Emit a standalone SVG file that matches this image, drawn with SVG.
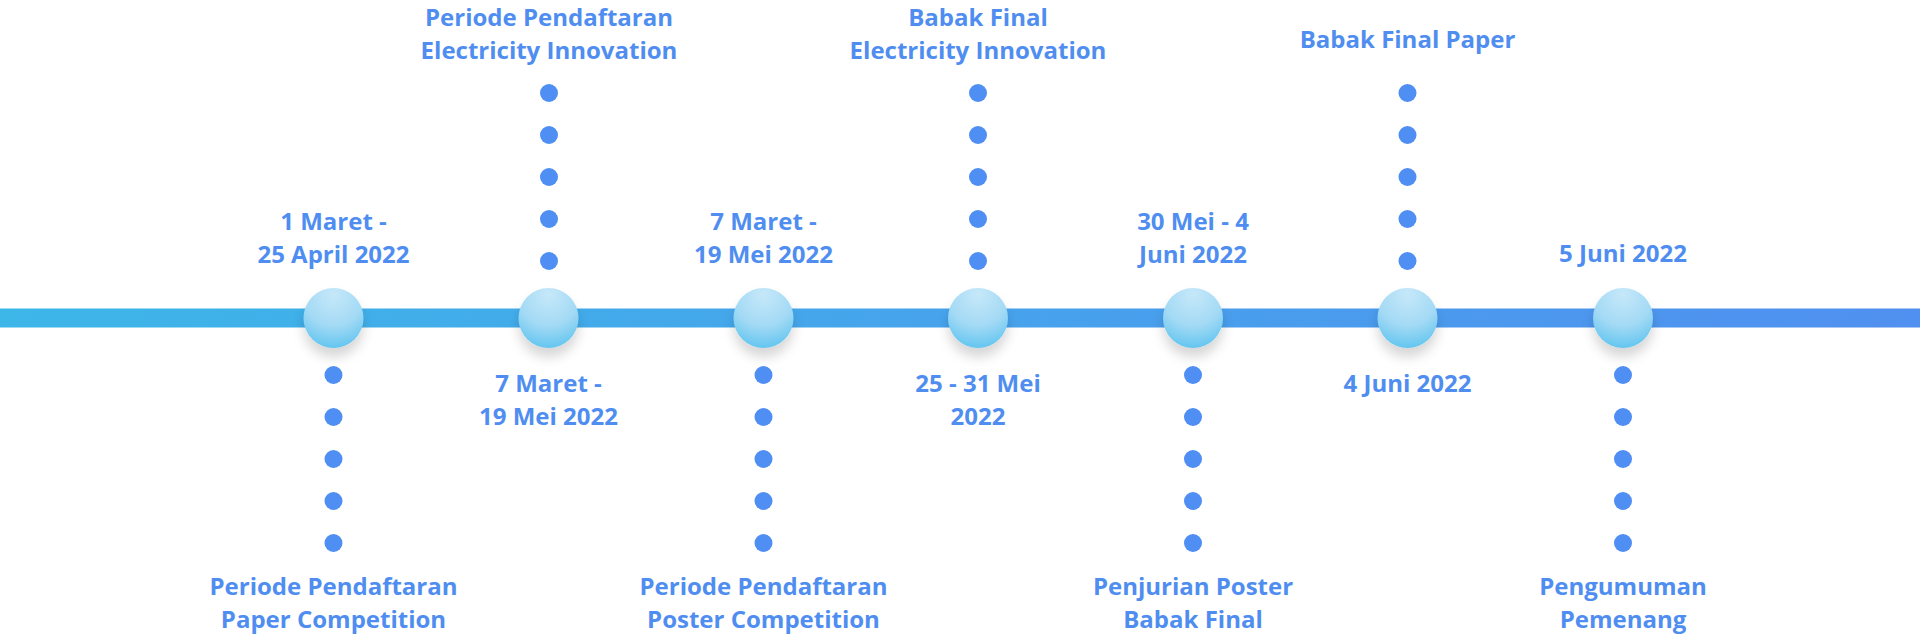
<svg xmlns="http://www.w3.org/2000/svg" width="1920" height="636" viewBox="0 0 1920 636">
  <defs>
    <linearGradient id="lineGrad" x1="0" y1="0" x2="1920" y2="0" gradientUnits="userSpaceOnUse">
      <stop offset="0" stop-color="#3db6e8"/>
      <stop offset="1" stop-color="#5090f0"/>
    </linearGradient>
    <radialGradient id="ballGrad" cx="0.5" cy="0.15" r="0.9" fx="0.5" fy="0.1">
      <stop offset="0" stop-color="#c6e8f9"/>
      <stop offset="0.55" stop-color="#a4daf5"/>
      <stop offset="1" stop-color="#5cc3ef"/>
    </radialGradient>
    <filter id="shadow" x="-50%" y="-50%" width="200%" height="220%">
      <feDropShadow dx="0" dy="9" stdDeviation="6" flood-color="#000000" flood-opacity="0.16"/>
    </filter>
  </defs>
  <style>
    .lbl { font-family: "Open Sans", "Liberation Sans", sans-serif; font-weight: 700; font-size: 24px; fill: #4f8ef0; text-anchor: middle; }
    .dot { fill: #4f8ef2; }
    .ball { fill: url(#ballGrad); filter: url(#shadow); }
  </style>

  <g id="connectors">
    <rect x="0" y="308.5" width="1920" height="19" fill="url(#lineGrad)"/>
  </g>

  <g id="node1">
    <circle class="ball" cx="333.5" cy="318" r="30"/>
    <text class="lbl" x="333.5" y="230">1 Maret -</text>
    <text class="lbl" x="333.5" y="263">25 April 2022</text>
    <circle class="dot" cx="333.5" cy="375" r="9"/>
    <circle class="dot" cx="333.5" cy="417" r="9"/>
    <circle class="dot" cx="333.5" cy="459" r="9"/>
    <circle class="dot" cx="333.5" cy="501" r="9"/>
    <circle class="dot" cx="333.5" cy="543" r="9"/>
    <text class="lbl" x="333.5" y="595">Periode Pendaftaran</text>
    <text class="lbl" x="333.5" y="628">Paper Competition</text>
  </g>

  <g id="node2">
    <text class="lbl" x="549" y="26">Periode Pendaftaran</text>
    <text class="lbl" x="549" y="59">Electricity Innovation</text>
    <circle class="dot" cx="549" cy="93" r="9"/>
    <circle class="dot" cx="549" cy="135" r="9"/>
    <circle class="dot" cx="549" cy="177" r="9"/>
    <circle class="dot" cx="549" cy="219" r="9"/>
    <circle class="dot" cx="549" cy="261" r="9"/>
    <circle class="ball" cx="548.5" cy="318" r="30"/>
    <text class="lbl" x="548.5" y="392">7 Maret -</text>
    <text class="lbl" x="548.5" y="425">19 Mei 2022</text>
  </g>

  <g id="node3">
    <text class="lbl" x="763.5" y="230">7 Maret -</text>
    <text class="lbl" x="763.5" y="263">19 Mei 2022</text>
    <circle class="ball" cx="763.5" cy="318" r="30"/>
    <circle class="dot" cx="763.5" cy="375" r="9"/>
    <circle class="dot" cx="763.5" cy="417" r="9"/>
    <circle class="dot" cx="763.5" cy="459" r="9"/>
    <circle class="dot" cx="763.5" cy="501" r="9"/>
    <circle class="dot" cx="763.5" cy="543" r="9"/>
    <text class="lbl" x="763.5" y="595">Periode Pendaftaran</text>
    <text class="lbl" x="763.5" y="628">Poster Competition</text>
  </g>

  <g id="node4">
    <text class="lbl" x="978" y="26">Babak Final</text>
    <text class="lbl" x="978" y="59">Electricity Innovation</text>
    <circle class="dot" cx="978" cy="93" r="9"/>
    <circle class="dot" cx="978" cy="135" r="9"/>
    <circle class="dot" cx="978" cy="177" r="9"/>
    <circle class="dot" cx="978" cy="219" r="9"/>
    <circle class="dot" cx="978" cy="261" r="9"/>
    <circle class="ball" cx="978" cy="318" r="30"/>
    <text class="lbl" x="978" y="392">25 - 31 Mei</text>
    <text class="lbl" x="978" y="425">2022</text>
  </g>

  <g id="node5">
    <text class="lbl" x="1193" y="230">30 Mei - 4</text>
    <text class="lbl" x="1193" y="263">Juni 2022</text>
    <circle class="ball" cx="1193" cy="318" r="30"/>
    <circle class="dot" cx="1193" cy="375" r="9"/>
    <circle class="dot" cx="1193" cy="417" r="9"/>
    <circle class="dot" cx="1193" cy="459" r="9"/>
    <circle class="dot" cx="1193" cy="501" r="9"/>
    <circle class="dot" cx="1193" cy="543" r="9"/>
    <text class="lbl" x="1193" y="595">Penjurian Poster</text>
    <text class="lbl" x="1193" y="628">Babak Final</text>
  </g>

  <g id="node6">
    <text class="lbl" x="1407.5" y="48">Babak Final Paper</text>
    <circle class="dot" cx="1407.5" cy="93" r="9"/>
    <circle class="dot" cx="1407.5" cy="135" r="9"/>
    <circle class="dot" cx="1407.5" cy="177" r="9"/>
    <circle class="dot" cx="1407.5" cy="219" r="9"/>
    <circle class="dot" cx="1407.5" cy="261" r="9"/>
    <circle class="ball" cx="1407.5" cy="318" r="30"/>
    <text class="lbl" x="1407.5" y="392">4 Juni 2022</text>
  </g>

  <g id="node7">
    <text class="lbl" x="1623" y="262">5 Juni 2022</text>
    <circle class="ball" cx="1623" cy="318" r="30"/>
    <circle class="dot" cx="1623" cy="375" r="9"/>
    <circle class="dot" cx="1623" cy="417" r="9"/>
    <circle class="dot" cx="1623" cy="459" r="9"/>
    <circle class="dot" cx="1623" cy="501" r="9"/>
    <circle class="dot" cx="1623" cy="543" r="9"/>
    <text class="lbl" x="1623" y="595">Pengumuman</text>
    <text class="lbl" x="1623" y="628">Pemenang</text>
  </g>
</svg>
